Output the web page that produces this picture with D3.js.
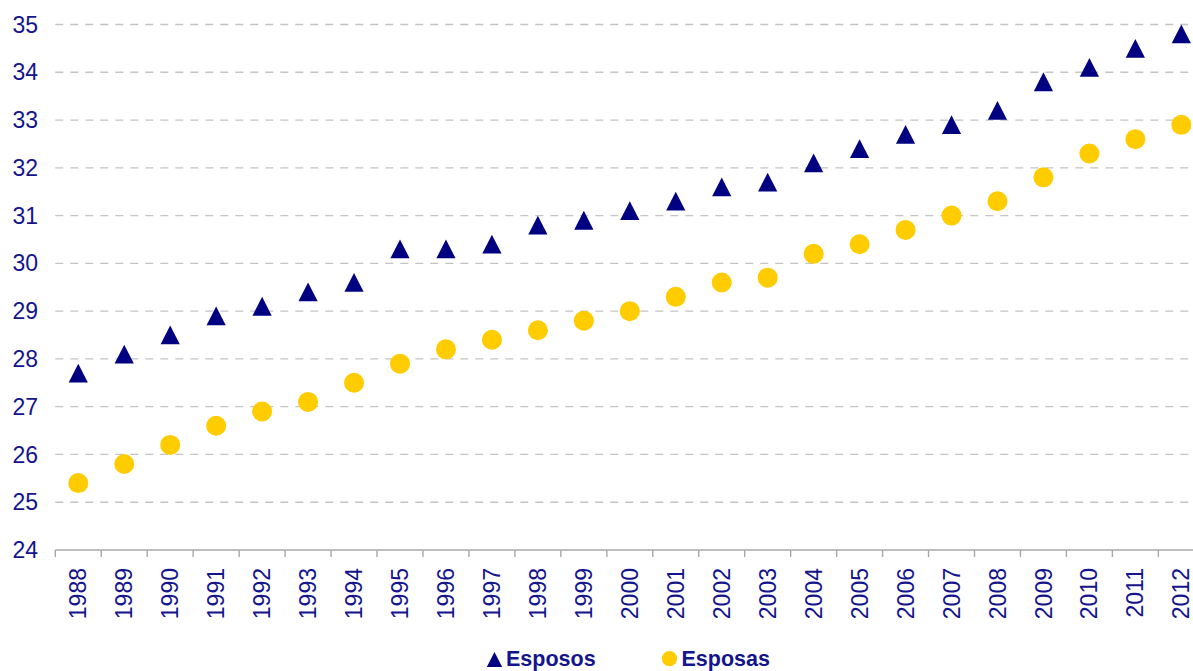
<!DOCTYPE html>
<html>
<head>
<meta charset="utf-8">
<script src="https://cdn.jsdelivr.net/npm/d3@7"></script>
<style>
  body { margin: 0; background: #fff; }
  svg { display: block; font-family: "Liberation Sans", Arial, sans-serif; }
</style>
</head>
<body>
<svg id="chart"></svg>
<script>
const years = ['1988','1989','1990','1991','1992','1993','1994','1995','1996','1997','1998','1999','2000',
  '2001','2002','2003','2004','2005','2006','2007','2008','2009','2010','2011','2012']
const esposos = [27.7,28.1,28.5,28.9,29.1,29.4,29.6,30.3,30.3,30.4,30.8,30.9,31.1,
  31.3,31.6,31.7,32.1,32.4,32.7,32.9,33.2,33.8,34.1,34.5,34.8]
const esposas = [25.4,25.8,26.2,26.6,26.9,27.1,27.5,27.9,28.2,28.4,28.6,28.8,29.0,
  29.3,29.6,29.7,30.2,30.4,30.7,31.0,31.3,31.8,32.3,32.6,32.9]
const yTicks = [24,25,26,27,28,29,30,31,32,33,34,35]
const legendLabels = ['Esposos','Esposas']

const width = 1193
const height = 671
const navy = '#000080'
const gold = '#ffcc00'
const textColor = '#14148c'

const svg = d3.select('#chart')
  .attr('width', width)
  .attr('height', height)

// plot area runs a bit past the right edge, like the original crop
const xScale = d3.scaleBand()
  .domain(years)
  .range([55.3, 1204.3])

const yScale = d3.scaleLinear()
  .domain([24, 35])
  .range([550, 24.5])

// dashed gridlines
svg.append('g')
  .selectAll('line')
  .data(yTicks.filter(d => d > 24))
  .enter()
  .append('line')
  .attr('x1', xScale.range()[0])
  .attr('x2', width)
  .attr('y1', d => yScale(d))
  .attr('y2', d => yScale(d))
  .attr('stroke', '#c4c4c4')
  .attr('stroke-width', 1.3)
  .attr('stroke-dasharray', '8,7')

// y labels
svg.append('g')
  .selectAll('text')
  .data(yTicks)
  .enter()
  .append('text')
  .attr('x', 38)
  .attr('y', d => yScale(d))
  .attr('dy', '0.35em')
  .attr('text-anchor', 'end')
  .attr('fill', textColor)
  .style('font-size', '23px')
  .text(d => d)

// x axis line + ticks between categories
svg.append('line')
  .attr('x1', xScale.range()[0])
  .attr('x2', width)
  .attr('y1', yScale(24))
  .attr('y2', yScale(24))
  .attr('stroke', '#a8a8a8')
  .attr('stroke-width', 1.6)

const boundaries = years.map(y => xScale(y))
svg.append('g')
  .selectAll('line')
  .data(boundaries)
  .enter()
  .append('line')
  .attr('x1', d => d)
  .attr('x2', d => d)
  .attr('y1', yScale(24))
  .attr('y2', yScale(24) + 7)
  .attr('stroke', '#a8a8a8')
  .attr('stroke-width', 1.4)

// rotated year labels
svg.append('g')
  .selectAll('text')
  .data(years)
  .enter()
  .append('text')
  .attr('transform', d => `translate(${xScale(d) + xScale.bandwidth() / 2},568) rotate(-90)`)
  .attr('dy', '0.35em')
  .attr('text-anchor', 'end')
  .attr('fill', textColor)
  .style('font-size', '23px')
  .text(d => d)

const triPath = 'M0,-9.5L9.6,9.3L-9.6,9.3Z'

// esposas circles
svg.append('g')
  .selectAll('circle')
  .data(esposas)
  .enter()
  .append('circle')
  .attr('cx', (d, i) => xScale(years[i]) + xScale.bandwidth() / 2)
  .attr('cy', d => yScale(d))
  .attr('r', 10)
  .attr('fill', gold)

// esposos triangles
svg.append('g')
  .selectAll('path')
  .data(esposos)
  .enter()
  .append('path')
  .attr('transform', (d, i) => `translate(${xScale(years[i]) + xScale.bandwidth() / 2},${yScale(d)})`)
  .attr('d', triPath)
  .attr('fill', navy)

// legend (raised slightly so descenders stay inside the frame)
const legend = svg.append('g')
legend.append('path')
  .attr('d', 'M0,-7.5L7.7,7.5L-7.7,7.5Z')
  .attr('transform', 'translate(494.5,659.5)')
  .attr('fill', navy)
legend.append('text')
  .attr('x', 506)
  .attr('y', 666)
  .attr('fill', textColor)
  .style('font-size', '21.5px')
  .style('font-weight', 'bold')
  .text(legendLabels[0])
legend.append('circle')
  .attr('cx', 669.5)
  .attr('cy', 658.7)
  .attr('r', 7.6)
  .attr('fill', gold)
legend.append('text')
  .attr('x', 681.5)
  .attr('y', 666)
  .attr('fill', textColor)
  .style('font-size', '21.5px')
  .style('font-weight', 'bold')
  .text(legendLabels[1])
</script>
</body>
</html>
